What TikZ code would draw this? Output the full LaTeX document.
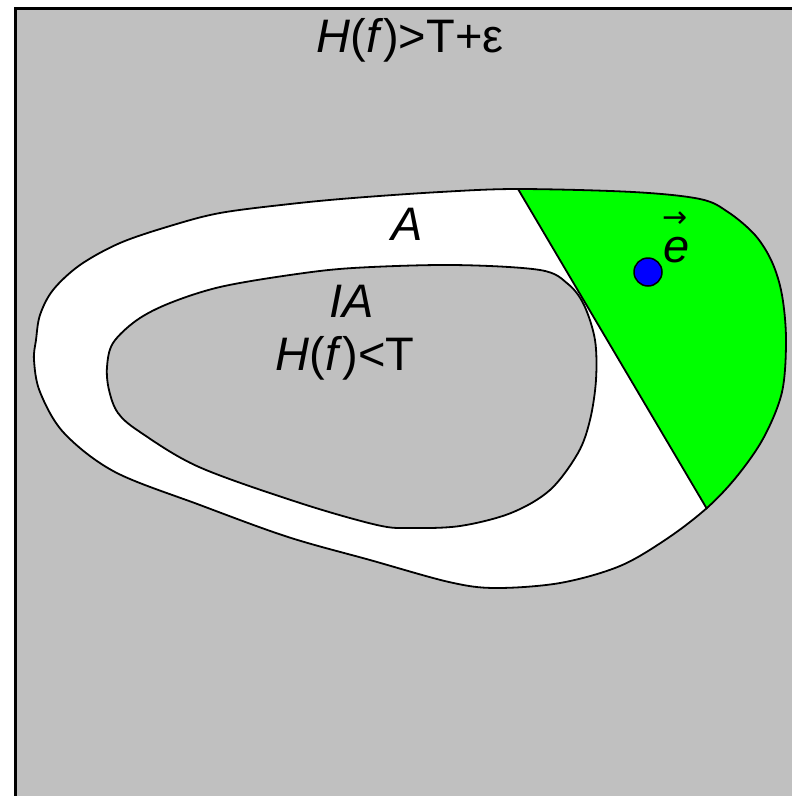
\documentclass[tikz,border=0pt]{standalone}
\usepackage{fontspec}
\setmainfont{Liberation Sans}
\newfontfamily\arrowfont{DejaVu Sans}
\definecolor{bggray}{HTML}{C0C0C0}
\definecolor{brightgreen}{HTML}{00FF00}
\definecolor{dotblue}{HTML}{0000FF}
\begin{document}
\begin{tikzpicture}[x=1pt,y=-1pt,
  lbl/.style={font=\fontsize{47}{56}\selectfont, inner sep=0pt, anchor=base},
  curve/.style={draw=black, line width=1.8pt, line join=round}]
\useasboundingbox (0,0) rectangle (792,796);
\def\outerpath{plot[smooth cycle, tension=0.55] coordinates {
 (518,189) (633,192) (700,199) (728,212) (755,235) (772,262) (782,295) (786,340)
 (782,392) (764,437) (738,475) (708,507) (668,538) (620,566) (560,583) (495,588)
 (449,582) (370,560) (288,537) (200,505) (115,472) (64,433) (40,392) (34,360)
 (36,340) (40,315) (53,290) (80,265) (120,243) (170,226) (220,213) (290,204)
 (353,198) (440,192)}}
\def\innerpath{plot[smooth cycle, tension=0.55] coordinates {
 (453,265) (540,270) (568,284) (584,305) (595,340) (596,380) (590,420) (578,453)
 (550,490) (511,513) (460,526) (410,528) (377,525) (300,503) (199,467) (140,432)
 (118,413) (109,390) (107,367) (113,343) (137,320) (170,303) (220,287) (290,275)
 (353,268)}}
% background
\fill[bggray] (15,9) rectangle (792,796);
\draw[line width=3pt] (15,796) -- (15,8.5) -- (792,8.5);
% outer region
\fill[white] \outerpath;
% inner region
\fill[bggray] \innerpath;
\draw[curve] \innerpath;
% green region
\coordinate (g1) at (518,189);
\coordinate (g2) at (707,509);
\begin{scope}
  \clip \outerpath;
  \fill[brightgreen] (424,29) -- (801,669) -- (900,669) -- (900,29) -- cycle;
\end{scope}
\draw[curve] \outerpath;
\draw[line width=1.8pt] (g1) -- (g2);
% dot
\node[circle, fill=dotblue, draw=black, line width=1.5pt, minimum size=28pt, inner sep=0pt] (dot) at (648,272) {};
% labels
\node[lbl] (top) at (410,52) {\textit{H}(\textit{f})>T+ε};
\node[lbl] (a) at (407,240) {\textit{A}};
\node[lbl] (ia) at (352,317) {\textit{IA}};
\node[lbl] (hlt) at (345,370) {\textit{H}(\textit{f})<T};
\node[lbl, anchor=base west] (e) at (663,262) {\textit{e}\llap{\raisebox{35pt}{\arrowfont\fontsize{30}{30}\selectfont →}\hspace{2pt}}};
\end{tikzpicture}
\end{document}
